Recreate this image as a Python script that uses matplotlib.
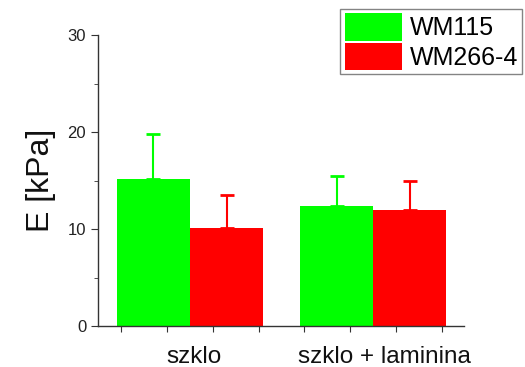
import numpy as np
import matplotlib.pyplot as plt
from matplotlib.ticker import MultipleLocator, FixedLocator, NullFormatter

plt.rcParams['font.family'] = ['Liberation Sans', 'DejaVu Sans']

groups = ['szklo', 'szklo + laminina']
series = ['WM115', 'WM266-4']
wm115 = [15.2, 12.4]
wm115_err = [4.6, 3.1]
wm266 = [10.1, 12.0]
wm266_err = [3.4, 3.0]
colors = ['#00FF00', '#FF0000']

fig = plt.figure(figsize=(5.25, 3.67), dpi=100)
ax = fig.add_axes([0.1867, 0.1117, 0.6973, 0.7929])

x = np.arange(1, len(groups) + 1)
width = 0.4
err_kw = dict(lw=1.5, capsize=5, capthick=2)
b1 = ax.bar(x - width / 2, wm115, width, color=colors[0], label=series[0],
            yerr=[np.zeros(len(x)), wm115_err], error_kw=dict(ecolor=colors[0], **err_kw))
b2 = ax.bar(x + width / 2, wm266, width, color=colors[1], label=series[1],
            yerr=[np.zeros(len(x)), wm266_err], error_kw=dict(ecolor=colors[1], **err_kw))

ax.set_xlim(0.497, 2.497)
ax.set_ylim(0, 30)
ax.spines['top'].set_visible(False)
ax.spines['right'].set_visible(False)
for s in ['left', 'bottom']:
    ax.spines[s].set_color('#333333')
    ax.spines[s].set_linewidth(1.0)

ax.yaxis.set_major_locator(MultipleLocator(10))
ax.yaxis.set_minor_locator(MultipleLocator(5))
ax.tick_params(axis='y', which='major', direction='out', length=5, labelsize=12, colors='#333333', labelcolor='#222222')
ax.tick_params(axis='y', which='minor', direction='out', length=3, colors='#333333')

# ticks every quarter, group labels written under the group centres
ax.xaxis.set_major_locator(FixedLocator(np.arange(0.625, 2.5, 0.25)))
ax.xaxis.set_major_formatter(NullFormatter())
ax.tick_params(axis='x', direction='out', length=4, colors='#333333')
for xi, g in zip([1.02, 2.06], groups):
    ax.annotate(g, (xi, 0), xycoords=('data', 'axes fraction'), xytext=(0, -26.5),
                textcoords='offset points', ha='center', va='baseline', fontsize=17.5, color='#111111')

ax.set_ylabel('E [kPa]', fontsize=23, labelpad=8, color='#111111')

leg = fig.legend(handles=[b1, b2], labels=series, loc='upper right',
                 bbox_to_anchor=(0.995, 0.976), fontsize=18, frameon=True, fancybox=False,
                 edgecolor='#666666', handlelength=2.3, handleheight=1.3, handletextpad=0.3,
                 labelspacing=0.08, borderpad=0.18, borderaxespad=0)
leg.get_frame().set_linewidth(1.0)

fig.savefig('out.png', dpi=100)
